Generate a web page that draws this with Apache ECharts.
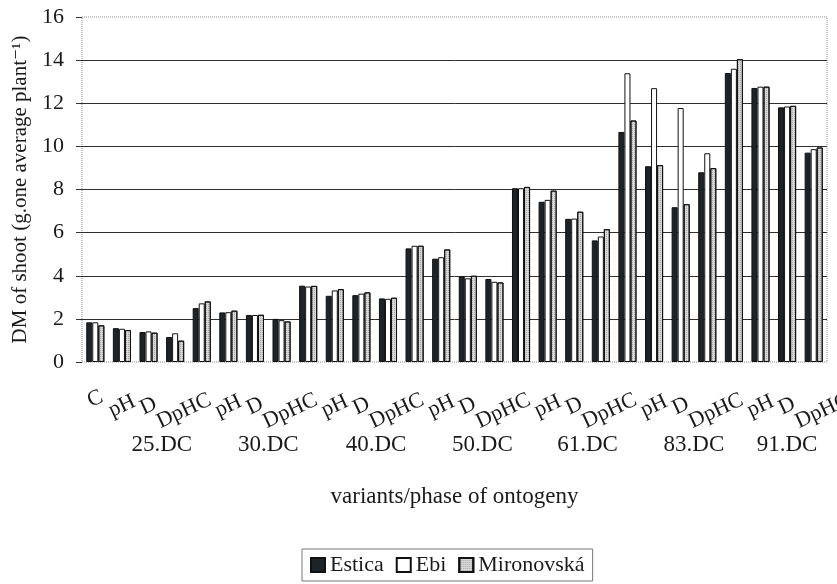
<!DOCTYPE html>
<html>
<head>
<meta charset="utf-8">
<script src="https://cdn.jsdelivr.net/npm/echarts@6/dist/echarts.min.js"></script>
<style>html,body{margin:0;padding:0;background:#fff}#c{width:837px;height:584px}</style>
</head>
<body>
<div id="c"></div>
<script>
const phases = ['25.DC', '30.DC', '40.DC', '50.DC', '61.DC', '83.DC', '91.DC'];
const variants = ['C', 'pH', 'D', 'DpHC'];
// positions of the phase captions, in category units along the x axis
const phasePos = [3, 7, 11.05, 15.05, 19, 23, 26.5];
const estica = [1.84, 1.57, 1.39, 1.16, 2.50, 2.30, 2.18, 2.00, 3.54, 3.07, 3.10, 2.95, 5.27, 4.79, 3.97, 3.85, 8.06, 7.43, 6.64, 5.64, 10.67, 9.08, 7.18, 8.80, 13.40, 12.71, 11.81, 9.71];
const ebi = [1.84, 1.54, 1.42, 1.33, 2.72, 2.31, 2.18, 1.94, 3.50, 3.32, 3.17, 2.93, 5.39, 4.86, 3.88, 3.72, 8.06, 7.52, 6.65, 5.82, 13.39, 12.70, 11.78, 9.68, 13.60, 12.77, 11.85, 9.87];
const mironovska = [1.70, 1.48, 1.36, 0.99, 2.81, 2.38, 2.19, 1.88, 3.53, 3.38, 3.23, 2.98, 5.39, 5.22, 4.00, 3.69, 8.12, 7.95, 6.97, 6.16, 11.20, 9.13, 7.32, 8.99, 14.04, 12.77, 11.88, 9.95];

const categories = [];
phases.forEach(p => variants.forEach(v => categories.push(p + ' ' + v)));

const FONT = '"Liberation Serif", "Times New Roman", "DejaVu Serif", serif';
const chart = echarts.init(document.getElementById('c'), null, {renderer: 'canvas'});
const richBase = {fontFamily: FONT, fontSize: 22, color: '#1a1a1a'};
const option = {
  animation: false,
  backgroundColor: '#fff',
  textStyle: {fontFamily: FONT},
  grid: {left: 82, right: 10, top: 17, bottom: 222, containLabel: false, outerBoundsMode: 'none',
    show: true, borderColor: '#8a8a8a', borderWidth: 1, borderType: 'dotted', backgroundColor: 'transparent'},
  legend: {
    left: 302, top: 549,
    data: ['Estica', 'Ebi', 'Mironovská'],
    icon: 'rect', itemWidth: 14, itemHeight: 14, itemGap: 12,
    borderColor: '#777', borderWidth: 1, padding: [5, 8],
    textStyle: {fontFamily: FONT, fontSize: 22, color: '#1a1a1a'}
  },
  xAxis: [
    {
      type: 'category', data: categories, gridIndex: 0,
      axisLine: {show: false}, axisTick: {show: false},
      axisLabel: {
        rotate: 25, align: 'center', verticalAlign: 'middle', margin: 37,
        interval: 0, hideOverlap: false,
        fontFamily: FONT, fontSize: 22,
        formatter: (val, idx) => {
          if (idx > 0 && idx % 4 === 0) return '';
          const v = val.split(' ')[1];
          const key = {C: 'c', pH: 'p', D: 'd', DpHC: 'x'}[v];
          return '{' + key + '|' + v + '}';
        },
        rich: {
          c: Object.assign({}, richBase, {padding: [0, 0, 0, 0]}),
          p: Object.assign({}, richBase, {padding: [13, 6, 0, 0]}),
          d: Object.assign({}, richBase, {padding: [13, 6, 0, 0]}),
          x: Object.assign({}, richBase, {padding: [29, 0, 0, 6]})
        }
      }
    },
    {
      type: 'value', gridIndex: 0, position: 'bottom', min: 0, max: 28,
      axisLine: {show: false}, axisTick: {show: false}, splitLine: {show: false},
      axisLabel: {
        customValues: phasePos, margin: 83, verticalAlign: 'middle',
        fontFamily: FONT, fontSize: 23, color: '#1a1a1a',
        formatter: (val) => {
          const i = phasePos.indexOf(val);
          return i >= 0 ? phases[i] : '';
        }
      },
      name: 'variants/phase of ontogeny', nameLocation: 'middle', nameGap: 135,
      nameTextStyle: {fontFamily: FONT, fontSize: 23, color: '#1a1a1a', verticalAlign: 'middle'}
    }
  ],
  yAxis: {
    type: 'value', min: 0, max: 16, interval: 2,
    name: 'DM of shoot (g.one average plant\u207B\u00B9)', nameLocation: 'middle', nameGap: 59,
    nameTextStyle: {fontFamily: FONT, fontSize: 21, color: '#1a1a1a', verticalAlign: 'middle'},
    axisLine: {show: false},
    axisTick: {show: true, length: 6, lineStyle: {color: '#333'}},
    axisLabel: {fontFamily: FONT, fontSize: 22, color: '#1a1a1a', margin: 18},
    splitLine: {lineStyle: {color: ['rgba(0,0,0,0)', '#2f2f2f', '#2f2f2f', '#2f2f2f', '#2f2f2f', '#2f2f2f', '#2f2f2f', '#2f2f2f', 'rgba(0,0,0,0)'], width: 1}}
  },
  series: [
    {name: 'Estica', type: 'bar', data: estica, barGap: '0%', barCategoryGap: '32%',
      itemStyle: {color: '#1e2328', borderColor: '#111', borderWidth: 1}},
    {name: 'Ebi', type: 'bar', data: ebi, barGap: '0%', barCategoryGap: '32%',
      itemStyle: {color: '#ffffff', borderColor: '#111', borderWidth: 1}},
    {name: 'Mironovská', type: 'bar', data: mironovska, barGap: '0%', barCategoryGap: '32%',
      itemStyle: {color: '#d8d8d8', borderColor: '#111', borderWidth: 1,
        decal: {symbol: 'rect', symbolSize: 1, color: 'rgba(80,80,80,0.35)', dashArrayX: [1, 1], dashArrayY: [1, 1], rotation: 0}}}
  ]
};
chart.setOption(option);
</script>
</body>
</html>
